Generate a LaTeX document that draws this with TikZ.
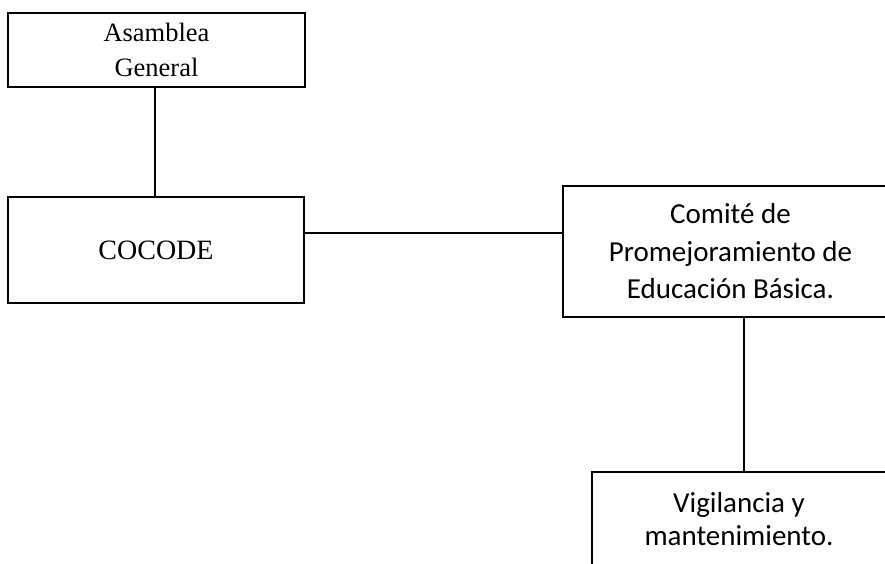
\documentclass[tikz,border=0pt]{standalone}
\usepackage{fontspec}
\setmainfont{Liberation Serif}
\newfontfamily\calfont{Carlito}
\begin{document}
\begin{tikzpicture}[x=1pt,y=-1pt,
  box/.style={draw=black,line width=2pt,rectangle,inner sep=0pt,align=center},
  serifbox/.style={box,font=\fontsize{26.5}{35}\selectfont},
  sansbox/.style={box,font=\calfont\fontsize{29}{37.5}\selectfont},
  link/.style={draw=black,line width=2pt}]
\useasboundingbox (0,0) rectangle (885,563);
\clip (0,0) rectangle (885,563);
\fill[white] (0,0) rectangle (885,563);
\node[serifbox,minimum width=297pt,minimum height=74pt] (asam) at (156.5,50) {Asamblea\\General};
\node[serifbox,font=\fontsize{28}{35}\selectfont,minimum width=296pt,minimum height=106pt] (cocode) at (156,250) {COCODE};
\node[sansbox,minimum width=335pt,minimum height=131pt] (comite) at (730.5,251.5) {Comité de\\Promejoramiento de\\Educación Básica.};
\node[sansbox,font=\calfont\fontsize{29}{33}\selectfont,minimum width=294pt,minimum height=94pt] (vig) at (739,519) {Vigilancia y\\mantenimiento.};
\draw[link] ([xshift=-1.5pt]asam.south) -- ([xshift=-1.5pt]asam.south |- cocode.north);
\draw[link] ([yshift=17pt]cocode.east) -- ([yshift=17pt]cocode.east -| comite.west);
\draw[link] ([xshift=5pt]vig.north |- comite.south) -- ([xshift=5pt]vig.north);
\end{tikzpicture}
\end{document}
